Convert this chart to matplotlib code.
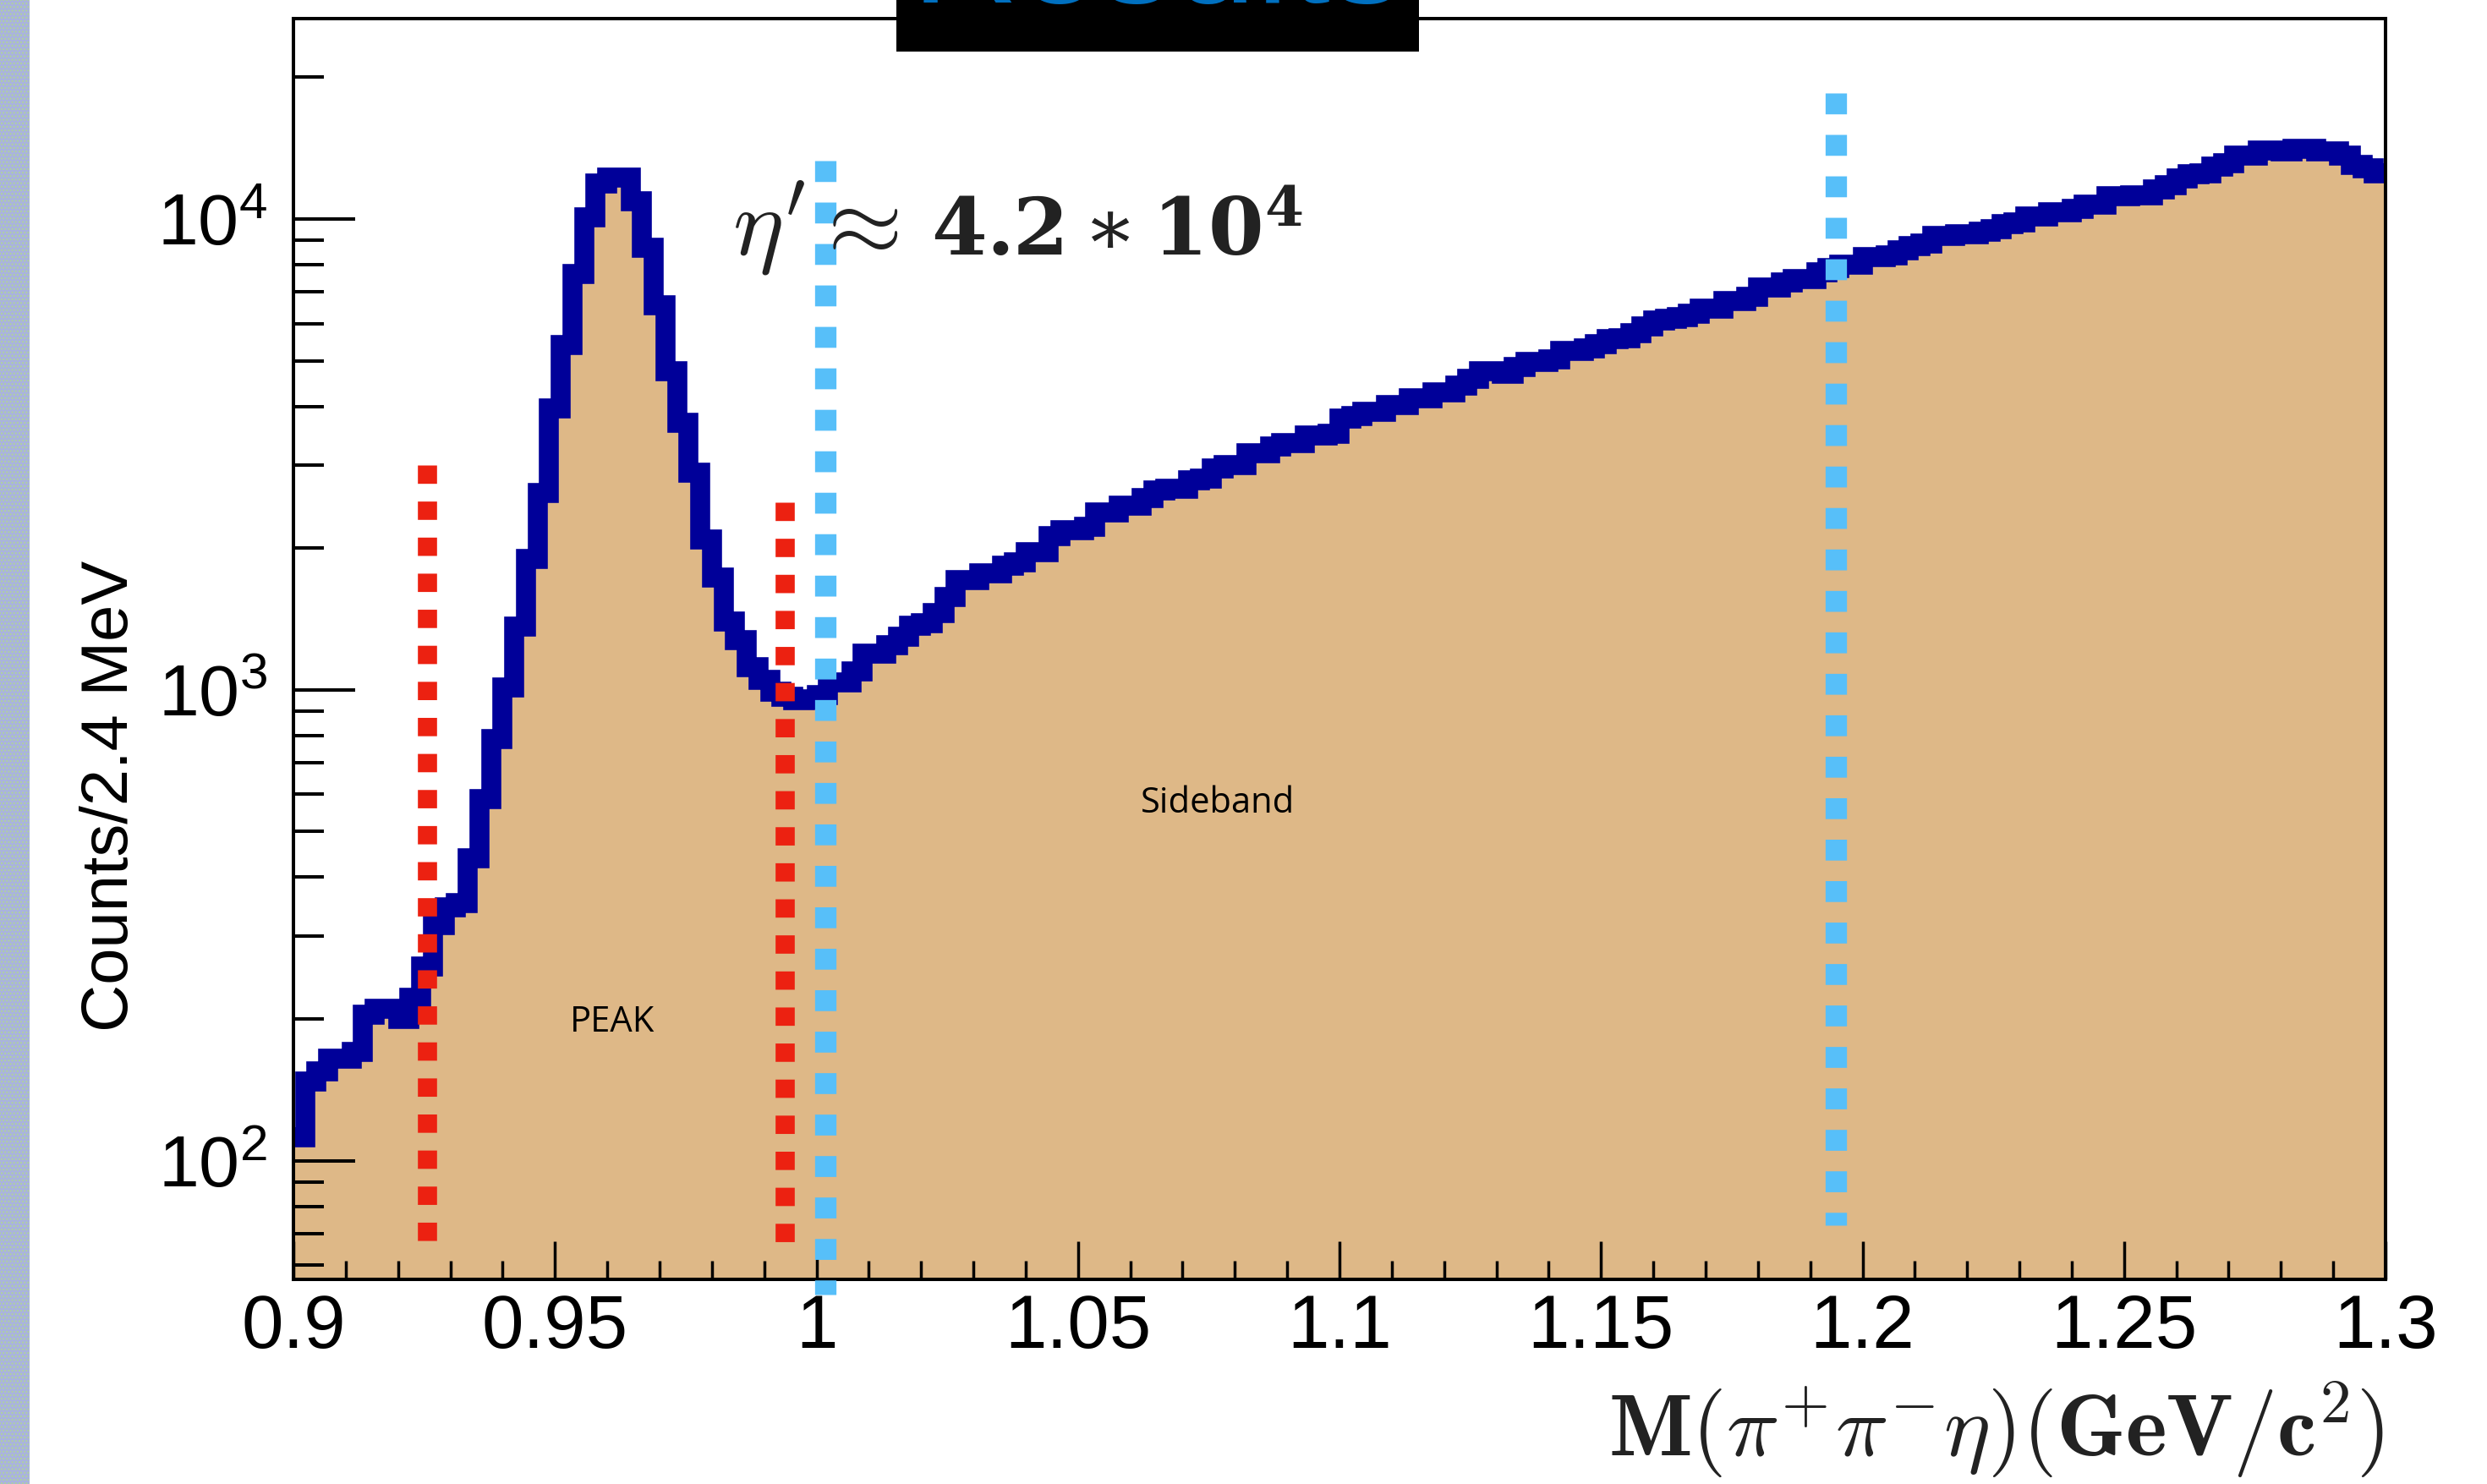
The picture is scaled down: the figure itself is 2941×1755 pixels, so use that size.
import numpy as np
import matplotlib.pyplot as plt
from matplotlib.patches import Rectangle
from matplotlib.ticker import MultipleLocator, LogLocator, LogFormatterMathtext, NullFormatter

plt.rcParams['font.family'] = ['Liberation Sans', 'DejaVu Sans']
plt.rcParams['lines.scale_dashes'] = False

#########################################################
# Data : M(pi+ pi- eta) spectrum, 180 bins from 0.9 to 1.3 GeV
#########################################################

mass_min = 0.9
mass_max = 1.3

counts = [
    112, 147, 155, 165, 165, 170, 204, 210, 210, 200,
    222, 259, 316, 345, 353, 439, 587, 785, 1013, 1362,
    1899, 2623, 3965, 5408, 7633, 10100, 11880, 12250, 12250, 10895,
    8699, 6549, 4745, 3686, 2892, 2089, 1730, 1395, 1274, 1117,
    1051, 990, 965, 950, 955, 975, 1039, 1039, 1094, 1195,
    1195, 1244, 1295, 1368, 1388, 1456, 1576, 1713, 1713, 1769,
    1769, 1837, 1866, 1957, 1957, 2122, 2180, 2180, 2222, 2385,
    2385, 2466, 2466, 2550, 2653, 2678, 2678, 2786, 2807, 2953,
    3000, 3000, 3187, 3187, 3289, 3342, 3342, 3476, 3476, 3493,
    3762, 3823, 3901, 3901, 4021, 4021, 4157, 4157, 4290, 4290,
    4430, 4571, 4741, 4741, 4690, 4847, 4964, 4964, 5042, 5246,
    5246, 5304, 5414, 5563, 5583, 5721, 5913, 6095, 6131, 6182,
    6302, 6444, 6444, 6694, 6694, 6834, 7153, 7153, 7324, 7456,
    7456, 7695, 7856, 8008, 8008, 8303, 8303, 8360, 8582, 8772,
    8860, 9208, 9208, 9294, 9294, 9397, 9515, 9743, 9836, 10124,
    10124, 10349, 10349, 10522, 10715, 10715, 11168, 11168, 11213, 11213,
    11543, 11799, 12207, 12432, 12502, 12940, 13122, 13616, 13616, 13959,
    13959, 13900, 14110, 14110, 13901, 13901, 13635, 13016, 12818, 12502,
]

# mass cuts: signal window and sideband window
peak_window = [0.9255, 0.9940]
peak_line_top = [3000, 2500]
peak_line_bottom = [67, 67]

sideband_window = [1.0017, 1.1949]
sideband_line_top = [13300, 18500]
sideband_line_bottom = [52, 73]

x_ticks = [0.9, 0.95, 1.0, 1.05, 1.1, 1.15, 1.2, 1.25, 1.3]
x_tick_labels = ['0.9', '0.95', '1', '1.05', '1.1', '1.15', '1.2', '1.25', '1.3']

#########################################################
# Figure
#########################################################

W, H = 2941, 1755
fig = plt.figure(figsize=(W / 100, H / 100), dpi=100)
fig.patch.set_facecolor('white')

ax = fig.add_axes([347 / W, 1 - 1513.3 / H, (2821 - 347) / W, (1513.3 - 21.5) / H])

edges = np.linspace(mass_min, mass_max, len(counts) + 1)

# filled histogram with thick outline on top
ax.stairs(counts, edges, baseline=1, fill=True, color='#DEB887', lw=0, zorder=1)
outline = ax.stairs(counts, edges, baseline=None, color='#000099', lw=17, zorder=2)
outline.set_joinstyle('miter')
outline.set_capstyle('butt')

# signal window (red) and sideband window (blue) markers
for x, top, bottom in zip(peak_window, peak_line_top, peak_line_bottom):
    ax.plot([x, x], [top, bottom], color='#EC2111', lw=16.3,
            dashes=(15.6, 15.1), zorder=3)

for x, top, bottom in zip(sideband_window, sideband_line_top, sideband_line_bottom):
    ax.plot([x, x], [top, bottom], color='#57BFF9', lw=18.2,
            dashes=(17.8, 17.5), zorder=3, clip_on=False)

ax.set_yscale('log')
ax.set_xlim(mass_min, mass_max)
ax.set_ylim(55.9, 26700)

ax.set_xticks(x_ticks, x_tick_labels)
ax.xaxis.set_minor_locator(MultipleLocator(0.01))
ax.yaxis.set_major_locator(LogLocator(base=10))
ax.yaxis.set_major_formatter(LogFormatterMathtext())
ax.yaxis.set_minor_locator(LogLocator(base=10, subs=np.arange(2, 10)))
ax.yaxis.set_minor_formatter(NullFormatter())

ax.set_axisbelow(False)
ax.tick_params(axis='x', which='major', direction='in', length=32.4, width=2.5,
               pad=11, labelsize=64)
ax.tick_params(axis='x', which='minor', direction='in', length=15.8, width=2.5)
ax.tick_params(axis='y', which='major', direction='in', length=52.6, width=2.9,
               pad=22, labelsize=62)
ax.tick_params(axis='y', which='minor', direction='in', length=26, width=2.9)

for side in ['top', 'right', 'bottom', 'left']:
    ax.spines[side].set_linewidth(2.9)

#########################################################
# Labels and annotations
#########################################################

fig.text(131 / W, 1 - 941 / H, 'Counts/2.4 MeV', rotation=90,
         ha='center', va='center', fontsize=56)

fig.text(2819 / W, 1 - 1721.7 / H,
         r'$\mathbf{M}(\pi^{+}\pi^{-}\eta)(\mathbf{GeV}/\mathbf{c}^{\mathbf{2}})$',
         math_fontfamily='cm', fontsize=75, ha='right', va='baseline', color='#222222')

# eta' yield: symbol part in Computer Modern, number in bold serif
fig.text(866 / W, 1 - 301.7 / H, r'$\eta^{\prime}\approx$',
         math_fontfamily='cm', fontsize=82, ha='left', va='baseline', color='#222222')
fig.text(1101 / W, 1 - 301.7 / H, r'$\mathbf{4.2}\ast\mathbf{10}^{\mathbf{4}}$',
         math_fontfamily='dejavuserif', fontsize=68, ha='left', va='baseline',
         color='#222222')

fig.text(724 / W, 1 - 1220 / H, 'PEAK', family=['Open Sans', 'DejaVu Sans'],
         fontsize=30, ha='center', va='baseline')
fig.text(1440 / W, 1 - 961 / H, 'Sideband', family=['Open Sans', 'DejaVu Sans'],
         fontsize=30, ha='center', va='baseline')

# slide decorations: title box cut by the top edge, side stripe
fig.add_artist(Rectangle((1060 / W, 1 - 61 / H), 618 / W, 61 / H,
                         transform=fig.transFigure, facecolor='black',
                         edgecolor='none', zorder=5))
fig.text((1060 + 1678) / 2 / W, 1 - 3 / H, 'Results', ha='center', va='baseline',
         fontsize=126, color='#0070C0', zorder=6)

fig.add_artist(Rectangle((0, 0), 35 / W, 1, transform=fig.transFigure,
                         facecolor='#A9B2DF', edgecolor='#B0D49A', hatch='....',
                         lw=0, zorder=5))

fig.savefig('out.png', dpi=100)
